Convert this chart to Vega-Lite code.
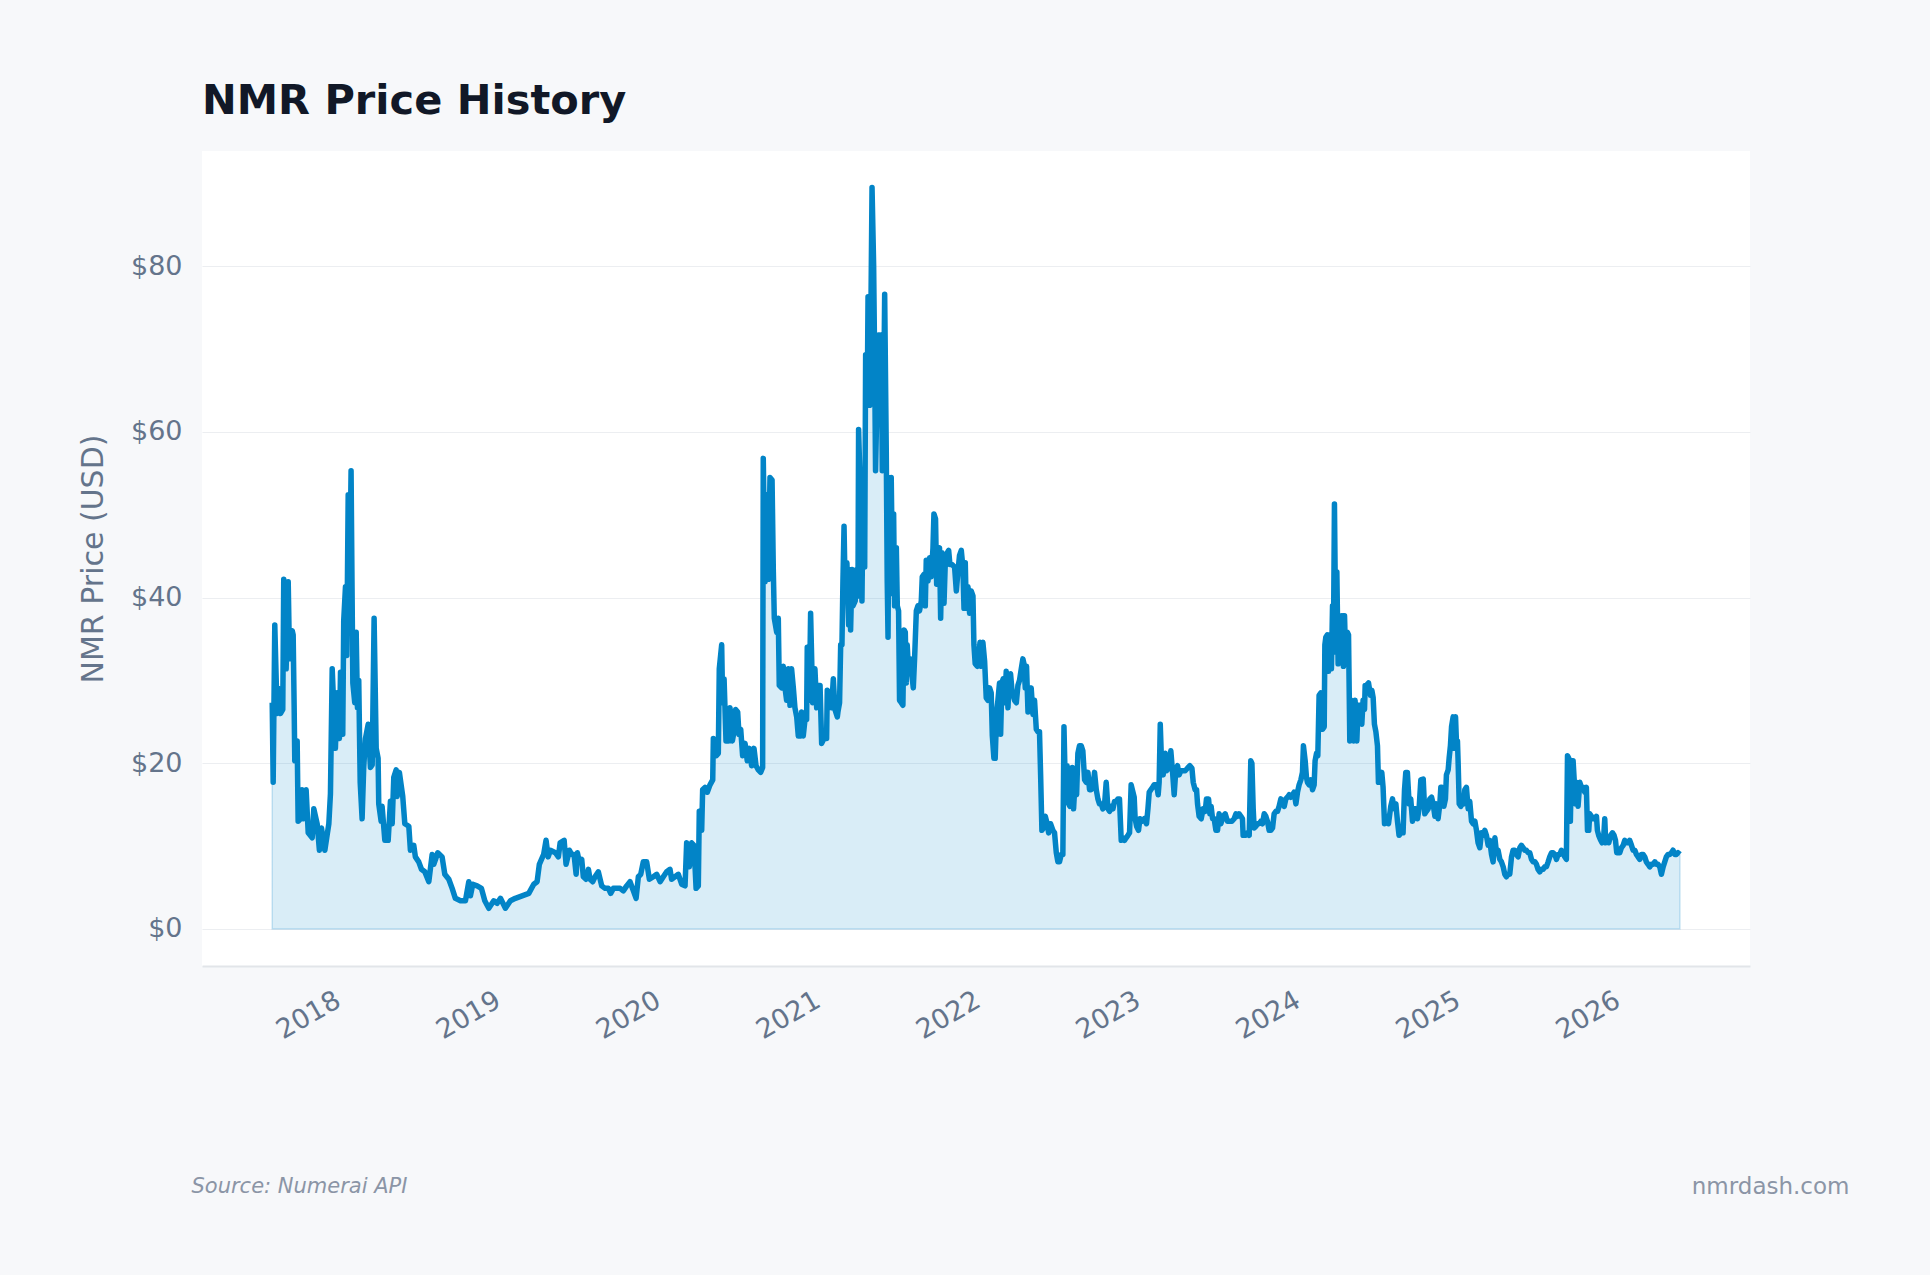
{
"$schema": "https://vega.github.io/schema/vega-lite/v6.json",
"width": 1548, "height": 815,
"autosize": {"type": "none"},
"padding": {"left": 202, "top": 151, "right": 180, "bottom": 309},
"background": "#f7f8fa",
"config": {"font": "DejaVu Sans", "view": {"fill": "#ffffff", "stroke": null}},
"title": {"text": "NMR Price History", "anchor": "start", "frame": "group", "fontSize": 41.5, "fontWeight": "bold", "color": "#111827", "font": "DejaVu Sans", "baseline": "alphabetic", "offset": 38, "dy": 42},
"data": {"values": [
{"t":2017.563,"p":27.3},{"t":2017.569,"p":17.7},{"t":2017.579,"p":36.7},{"t":2017.588,"p":30},{"t":2017.594,"p":26},{"t":2017.608,"p":29},{"t":2017.615,"p":26},{"t":2017.629,"p":26.5},{"t":2017.635,"p":42.2},{"t":2017.650,"p":31.4},{"t":2017.663,"p":41.9},{"t":2017.671,"p":32.6},{"t":2017.688,"p":36},{"t":2017.694,"p":35.5},{"t":2017.700,"p":27},{"t":2017.704,"p":20.3},{"t":2017.719,"p":22.7},{"t":2017.725,"p":13},{"t":2017.740,"p":13.3},{"t":2017.750,"p":16.8},{"t":2017.760,"p":13.3},{"t":2017.775,"p":16.8},{"t":2017.788,"p":11.6},{"t":2017.813,"p":11},{"t":2017.823,"p":14.5},{"t":2017.844,"p":12.7},{"t":2017.858,"p":9.5},{"t":2017.871,"p":12.2},{"t":2017.892,"p":9.5},{"t":2017.906,"p":11.3},{"t":2017.917,"p":12.7},{"t":2017.927,"p":16.3},{"t":2017.938,"p":31.4},{"t":2017.958,"p":21.8},{"t":2017.969,"p":28.5},{"t":2017.983,"p":23},{"t":2017.990,"p":31},{"t":2018.004,"p":23.5},{"t":2018.010,"p":37.2},{"t":2018.021,"p":41.3},{"t":2018.029,"p":33},{"t":2018.038,"p":52.4},{"t":2018.046,"p":40},{"t":2018.056,"p":55.3},{"t":2018.067,"p":29.7},{"t":2018.079,"p":27.3},{"t":2018.088,"p":35.8},{"t":2018.096,"p":26.7},{"t":2018.104,"p":30},{"t":2018.113,"p":17.7},{"t":2018.125,"p":13.3},{"t":2018.135,"p":19.5},{"t":2018.146,"p":23},{"t":2018.163,"p":24.7},{"t":2018.177,"p":19.5},{"t":2018.188,"p":19.8},{"t":2018.200,"p":37.5},{"t":2018.213,"p":21.8},{"t":2018.225,"p":20.6},{"t":2018.229,"p":15.1},{"t":2018.244,"p":13},{"t":2018.250,"p":14.8},{"t":2018.267,"p":10.7},{"t":2018.288,"p":10.7},{"t":2018.302,"p":15.4},{"t":2018.313,"p":12.7},{"t":2018.323,"p":18.3},{"t":2018.338,"p":19.2},{"t":2018.344,"p":16},{"t":2018.358,"p":18.9},{"t":2018.379,"p":16},{"t":2018.392,"p":12.7},{"t":2018.417,"p":12.4},{"t":2018.427,"p":9.5},{"t":2018.448,"p":10.1},{"t":2018.458,"p":8.7},{"t":2018.479,"p":8.1},{"t":2018.496,"p":7.2},{"t":2018.517,"p":6.9},{"t":2018.542,"p":5.7},{"t":2018.563,"p":9},{"t":2018.573,"p":7.8},{"t":2018.598,"p":9.2},{"t":2018.625,"p":8.7},{"t":2018.642,"p":6.6},{"t":2018.667,"p":6},{"t":2018.688,"p":4.9},{"t":2018.708,"p":3.7},{"t":2018.740,"p":3.4},{"t":2018.771,"p":3.4},{"t":2018.792,"p":5.7},{"t":2018.802,"p":4},{"t":2018.817,"p":5.4},{"t":2018.844,"p":5.2},{"t":2018.871,"p":4.9},{"t":2018.892,"p":3.4},{"t":2018.917,"p":2.5},{"t":2018.948,"p":3.4},{"t":2018.969,"p":3.1},{"t":2018.990,"p":3.7},{"t":2019.021,"p":2.5},{"t":2019.052,"p":3.4},{"t":2019.083,"p":3.7},{"t":2019.125,"p":4},{"t":2019.167,"p":4.3},{"t":2019.198,"p":5.4},{"t":2019.219,"p":5.7},{"t":2019.233,"p":7.8},{"t":2019.260,"p":9},{"t":2019.275,"p":10.7},{"t":2019.288,"p":8.7},{"t":2019.302,"p":9.5},{"t":2019.333,"p":9.2},
{"t":2019.352,"p":8.7},{"t":2019.363,"p":10.4},{"t":2019.388,"p":10.7},{"t":2019.400,"p":7.8},{"t":2019.421,"p":9.5},{"t":2019.435,"p":9},{"t":2019.450,"p":9},{"t":2019.463,"p":6.6},{"t":2019.471,"p":9.2},{"t":2019.483,"p":8.1},{"t":2019.498,"p":8.4},{"t":2019.508,"p":6.3},{"t":2019.525,"p":6},{"t":2019.540,"p":7.2},{"t":2019.550,"p":6},{"t":2019.567,"p":5.7},{"t":2019.581,"p":6.3},{"t":2019.602,"p":6.9},{"t":2019.623,"p":5.2},{"t":2019.644,"p":4.9},{"t":2019.665,"p":4.9},{"t":2019.679,"p":4.3},{"t":2019.696,"p":4.9},{"t":2019.717,"p":4.9},{"t":2019.738,"p":4.9},{"t":2019.758,"p":4.6},{"t":2019.779,"p":5.2},{"t":2019.800,"p":5.7},{"t":2019.821,"p":4.6},{"t":2019.838,"p":3.7},{"t":2019.852,"p":6.3},{"t":2019.867,"p":6.6},{"t":2019.883,"p":8.1},{"t":2019.904,"p":8.1},{"t":2019.921,"p":6},{"t":2019.946,"p":6.3},{"t":2019.967,"p":6.6},{"t":2019.988,"p":5.7},{"t":2020.008,"p":6.3},{"t":2020.029,"p":6.9},{"t":2020.050,"p":7.2},{"t":2020.060,"p":6},{"t":2020.081,"p":6.3},{"t":2020.102,"p":6.6},{"t":2020.123,"p":5.4},{"t":2020.144,"p":5.2},{"t":2020.154,"p":10.4},{"t":2020.171,"p":7.5},{"t":2020.185,"p":10.4},{"t":2020.200,"p":10.1},{"t":2020.213,"p":4.9},{"t":2020.227,"p":5.2},{"t":2020.233,"p":14.2},{"t":2020.248,"p":11.9},{"t":2020.254,"p":16.8},{"t":2020.269,"p":17.1},{"t":2020.283,"p":16.5},{"t":2020.300,"p":17.4},{"t":2020.317,"p":18},{"t":2020.321,"p":23},{"t":2020.338,"p":20.9},{"t":2020.352,"p":21.2},{"t":2020.358,"p":31.4},{"t":2020.373,"p":34.3},{"t":2020.379,"p":27.3},{"t":2020.388,"p":30.2},{"t":2020.400,"p":22.7},{"t":2020.415,"p":22.7},{"t":2020.425,"p":26.7},{"t":2020.440,"p":22.7},{"t":2020.450,"p":23.8},{"t":2020.460,"p":26.5},{"t":2020.473,"p":26.2},{"t":2020.481,"p":23.5},{"t":2020.492,"p":24.1},{"t":2020.504,"p":20.9},{"t":2020.519,"p":22.4},{"t":2020.533,"p":20.3},{"t":2020.546,"p":21.8},{"t":2020.560,"p":19.7},{"t":2020.575,"p":21.8},{"t":2020.588,"p":19.7},{"t":2020.602,"p":19.2},{"t":2020.617,"p":18.9},{"t":2020.629,"p":19.5},{"t":2020.633,"p":56.8},{"t":2020.644,"p":41.9},{"t":2020.654,"p":52.4},{"t":2020.665,"p":42.2},{"t":2020.675,"p":54.5},{"t":2020.688,"p":54.2},{"t":2020.696,"p":43.1},{"t":2020.702,"p":37.5},{"t":2020.717,"p":35.8},{"t":2020.727,"p":37.5},{"t":2020.733,"p":29.4},{"t":2020.748,"p":29.1},{"t":2020.758,"p":31.7},{"t":2020.769,"p":29.1},{"t":2020.779,"p":27.6},{"t":2020.790,"p":31.4},{"t":2020.800,"p":27},{"t":2020.810,"p":31.4},{"t":2020.821,"p":29.1},{"t":2020.831,"p":26.7},{"t":2020.842,"p":25.6},{"t":2020.852,"p":23.3},{"t":2020.867,"p":23.3},{"t":2020.873,"p":26.2},{"t":2020.883,"p":23.3},{"t":2020.894,"p":25.3},{"t":2020.904,"p":25.3},{"t":2020.908,"p":34},{"t":2020.921,"p":27.6},{"t":2020.929,"p":38.1},{"t":2020.942,"p":27.3},{"t":2020.956,"p":31.4},{"t":2020.967,"p":26.7},{"t":2020.977,"p":29.4},{"t":2020.988,"p":29.4},{"t":2020.998,"p":22.4},{"t":2021.013,"p":23},{"t":2021.029,"p":23},{"t":2021.033,"p":28.8},{"t":2021.046,"p":28.5},{"t":2021.060,"p":26.7},{"t":2021.071,"p":30.2},{"t":2021.081,"p":26.5},{"t":2021.096,"p":25.6},
{"t":2021.100,"p":26.2},{"t":2021.110,"p":27.3},{"t":2021.117,"p":34.3},{"t":2021.125,"p":34.3},{"t":2021.131,"p":41.9},{"t":2021.138,"p":48.6},{"t":2021.146,"p":39.6},{"t":2021.156,"p":44.2},{"t":2021.167,"p":36.7},{"t":2021.173,"p":43.4},{"t":2021.179,"p":36.1},{"t":2021.188,"p":43.4},{"t":2021.194,"p":39},{"t":2021.208,"p":39.6},{"t":2021.217,"p":43.4},{"t":2021.225,"p":40.2},{"t":2021.229,"p":60.3},{"t":2021.240,"p":52.4},{"t":2021.250,"p":39.6},{"t":2021.258,"p":54.2},{"t":2021.267,"p":43.7},{"t":2021.273,"p":69.3},{"t":2021.283,"p":63.5},{"t":2021.288,"p":76.3},{"t":2021.298,"p":63.2},{"t":2021.304,"p":70.2},{"t":2021.313,"p":89.5},{"t":2021.323,"p":80.1},{"t":2021.329,"p":69.3},{"t":2021.335,"p":55.3},{"t":2021.346,"p":65.8},{"t":2021.354,"p":71.7},{"t":2021.363,"p":62.9},{"t":2021.371,"p":71.7},{"t":2021.377,"p":55.3},{"t":2021.385,"p":62.3},{"t":2021.392,"p":76.6},{"t":2021.402,"p":57.7},{"t":2021.408,"p":41.9},{"t":2021.413,"p":35.2},{"t":2021.419,"p":54.5},{"t":2021.429,"p":40.5},{"t":2021.433,"p":54.5},{"t":2021.440,"p":43.7},{"t":2021.448,"p":50.1},{"t":2021.454,"p":39},{"t":2021.465,"p":46},{"t":2021.471,"p":39},{"t":2021.479,"p":38.4},{"t":2021.485,"p":27.6},{"t":2021.496,"p":27.3},{"t":2021.506,"p":27},{"t":2021.513,"p":36.1},{"t":2021.521,"p":35.8},{"t":2021.527,"p":29.7},{"t":2021.533,"p":34.3},{"t":2021.542,"p":30.8},{"t":2021.554,"p":32.6},{"t":2021.563,"p":30.5},{"t":2021.571,"p":29.1},{"t":2021.579,"p":32.6},{"t":2021.590,"p":38.4},{"t":2021.600,"p":39},{"t":2021.610,"p":38.4},{"t":2021.621,"p":39.6},{"t":2021.627,"p":42.5},{"t":2021.638,"p":42.8},{"t":2021.646,"p":39},{"t":2021.652,"p":44.5},{"t":2021.663,"p":42},{"t":2021.673,"p":44.8},{"t":2021.683,"p":42.5},{"t":2021.694,"p":46},{"t":2021.700,"p":50.1},{"t":2021.710,"p":49.5},{"t":2021.717,"p":41.6},{"t":2021.725,"p":45.4},{"t":2021.735,"p":46},{"t":2021.742,"p":37.5},{"t":2021.750,"p":45.4},{"t":2021.763,"p":39.3},{"t":2021.771,"p":44.2},{"t":2021.783,"p":45.4},{"t":2021.792,"p":45.7},{"t":2021.800,"p":44},{"t":2021.813,"p":44},{"t":2021.829,"p":43.7},{"t":2021.840,"p":40.8},{"t":2021.850,"p":43.1},{"t":2021.860,"p":45.1},{"t":2021.871,"p":45.7},{"t":2021.881,"p":43.7},{"t":2021.888,"p":38.7},{"t":2021.896,"p":44.2},{"t":2021.902,"p":38.7},{"t":2021.913,"p":41.3},{"t":2021.923,"p":38.1},{"t":2021.933,"p":40.8},{"t":2021.944,"p":40.2},{"t":2021.950,"p":34.3},{"t":2021.958,"p":32},{"t":2021.971,"p":31.7},{"t":2021.979,"p":32.6},{"t":2021.988,"p":34.6},{"t":2021.996,"p":31.7},{"t":2022.006,"p":34.6},{"t":2022.017,"p":32.3},{"t":2022.027,"p":27.9},{"t":2022.038,"p":27.6},{"t":2022.048,"p":29.1},{"t":2022.058,"p":28.5},{"t":2022.065,"p":23.3},{"t":2022.075,"p":20.6},{"t":2022.083,"p":20.6},{"t":2022.092,"p":26.2},{"t":2022.100,"p":27.6},{"t":2022.110,"p":29.7},{"t":2022.117,"p":23.5},{"t":2022.125,"p":29.7},{"t":2022.133,"p":30.2},{"t":2022.142,"p":27.3},{"t":2022.152,"p":31.1},{"t":2022.163,"p":26.7},{"t":2022.171,"p":30.5},{"t":2022.179,"p":30.8},{"t":2022.188,"p":28.8},{"t":2022.196,"p":28.2},{"t":2022.204,"p":27.6},{"t":2022.215,"p":27.3},{"t":2022.225,"p":29.4},{"t":2022.235,"p":30},{"t":2022.246,"p":31.4},{"t":2022.256,"p":32.6},{"t":2022.263,"p":32},{"t":2022.271,"p":29.1},{"t":2022.279,"p":31.7},{"t":2022.288,"p":26.2},{"t":2022.298,"p":26.5},{"t":2022.308,"p":29.1},{"t":2022.319,"p":25.9},{"t":2022.329,"p":27.6},{"t":2022.340,"p":24.1},{"t":2022.350,"p":23.8},{"t":2022.360,"p":23.8},{"t":2022.367,"p":18.6},{"t":2022.375,"p":11.9},{"t":2022.385,"p":12.2},{"t":2022.396,"p":13.6},{"t":2022.408,"p":12.7},{"t":2022.417,"p":11.6},{"t":2022.429,"p":12.7},{"t":2022.444,"p":11.9},{"t":2022.454,"p":11.6},{"t":2022.465,"p":9.2},{"t":2022.475,"p":8.1},{"t":2022.485,"p":8.1},{"t":2022.496,"p":9},{"t":2022.506,"p":9},{"t":2022.513,"p":24.4},{"t":2022.523,"p":15.7},{"t":2022.533,"p":19.7},{"t":2022.542,"p":15.1},{"t":2022.550,"p":14.8},{"t":2022.558,"p":15.1},{"t":2022.565,"p":19.5},{"t":2022.573,"p":14.5},{"t":2022.583,"p":18},{"t":2022.592,"p":16.2},{"t":2022.600,"p":21.2},{"t":2022.610,"p":22.1},{"t":2022.621,"p":22.1},{"t":2022.631,"p":21.5},{"t":2022.642,"p":18},{"t":2022.652,"p":17.7},{"t":2022.663,"p":18.9},{"t":2022.673,"p":16.8},{"t":2022.683,"p":16.8},{"t":2022.694,"p":17.1},{"t":2022.704,"p":18.9},{"t":2022.715,"p":16.8},{"t":2022.725,"p":15.7},{"t":2022.735,"p":15.1},{"t":2022.746,"p":15.1},{"t":2022.756,"p":14.5},{"t":2022.767,"p":15.1},{"t":2022.777,"p":17.7},{"t":2022.788,"p":14.5},{"t":2022.798,"p":14.2},{"t":2022.808,"p":14.8},{"t":2022.819,"p":14.5},{"t":2022.829,"p":15.4},{"t":2022.840,"p":15.4},{"t":2022.850,"p":15.7},{"t":2022.860,"p":15.7},{"t":2022.871,"p":10.7},{"t":2022.881,"p":11},{"t":2022.892,"p":10.7},{"t":2022.902,"p":11},{"t":2022.913,"p":11.3},{"t":2022.923,"p":11.6},{"t":2022.933,"p":17.4},
{"t":2022.952,"p":15.9},{"t":2022.958,"p":13.3},{"t":2022.967,"p":12.4},{"t":2022.979,"p":11.9},{"t":2022.988,"p":13.3},{"t":2023.000,"p":13},{"t":2023.015,"p":13.3},{"t":2023.029,"p":12.7},{"t":2023.038,"p":14.5},{"t":2023.046,"p":16.5},{"t":2023.056,"p":16.8},{"t":2023.067,"p":17.1},{"t":2023.077,"p":17.4},{"t":2023.092,"p":17.4},{"t":2023.102,"p":16.2},{"t":2023.108,"p":17.7},{"t":2023.115,"p":24.7},{"t":2023.125,"p":18.9},{"t":2023.133,"p":18.6},{"t":2023.146,"p":21.2},{"t":2023.154,"p":19.1},{"t":2023.167,"p":19.4},{"t":2023.181,"p":21.5},{"t":2023.192,"p":18.9},{"t":2023.202,"p":16.2},{"t":2023.213,"p":19.4},{"t":2023.223,"p":19.7},{"t":2023.233,"p":18.6},{"t":2023.244,"p":19.1},{"t":2023.258,"p":19.1},{"t":2023.271,"p":19.1},{"t":2023.285,"p":19.4},{"t":2023.300,"p":19.7},{"t":2023.313,"p":19.4},{"t":2023.321,"p":17.7},{"t":2023.333,"p":16.8},{"t":2023.342,"p":16.8},{"t":2023.348,"p":15.1},{"t":2023.358,"p":13.6},{"t":2023.371,"p":13.3},{"t":2023.383,"p":14.5},{"t":2023.396,"p":14.2},{"t":2023.404,"p":15.7},{"t":2023.417,"p":15.7},{"t":2023.425,"p":13.9},{"t":2023.433,"p":14.8},{"t":2023.442,"p":13.3},{"t":2023.452,"p":13.3},{"t":2023.463,"p":11.9},{"t":2023.473,"p":11.9},{"t":2023.483,"p":13.9},{"t":2023.494,"p":12.7},{"t":2023.508,"p":13.6},{"t":2023.521,"p":13.9},{"t":2023.535,"p":13},{"t":2023.546,"p":13},{"t":2023.563,"p":13},{"t":2023.577,"p":13.3},{"t":2023.588,"p":13.9},{"t":2023.598,"p":13.6},{"t":2023.608,"p":13.9},{"t":2023.619,"p":13.6},{"t":2023.629,"p":13.3},{"t":2023.633,"p":11.3},{"t":2023.646,"p":11.3},{"t":2023.660,"p":11.6},{"t":2023.671,"p":11.3},{"t":2023.681,"p":20.3},{"t":2023.688,"p":20},{"t":2023.696,"p":14.5},{"t":2023.702,"p":12.2},{"t":2023.713,"p":12.4},{"t":2023.723,"p":12.7},{"t":2023.733,"p":12.7},{"t":2023.744,"p":13},{"t":2023.754,"p":12.7},{"t":2023.765,"p":13.9},{"t":2023.775,"p":13.6},{"t":2023.785,"p":13},{"t":2023.796,"p":11.9},{"t":2023.806,"p":11.9},{"t":2023.817,"p":12.2},{"t":2023.827,"p":13.9},{"t":2023.838,"p":14.2},{"t":2023.848,"p":14.2},{"t":2023.858,"p":14.8},{"t":2023.869,"p":15.7},{"t":2023.879,"p":15.4},{"t":2023.890,"p":14.8},{"t":2023.900,"p":15.7},{"t":2023.910,"p":15.9},{"t":2023.921,"p":16.2},{"t":2023.931,"p":15.9},{"t":2023.942,"p":16.2},{"t":2023.952,"p":16.5},{"t":2023.963,"p":15.1},{"t":2023.973,"p":16.5},{"t":2023.983,"p":17.4},{"t":2023.994,"p":18},{"t":2024.004,"p":18.9},{"t":2024.010,"p":22.1},{"t":2024.021,"p":20.3},{"t":2024.029,"p":18.3},{"t":2024.035,"p":17.7},{"t":2024.046,"p":17.4},{"t":2024.056,"p":18},{"t":2024.067,"p":16.8},{"t":2024.077,"p":17.4},{"t":2024.083,"p":20.3},{"t":2024.092,"p":21.2},{"t":2024.100,"p":20.9},{"t":2024.108,"p":28.2},{"t":2024.119,"p":28.5},{"t":2024.129,"p":24.1},{"t":2024.140,"p":24.4},{"t":2024.144,"p":34.3},{"t":2024.150,"p":35.2},{"t":2024.160,"p":35.5},{"t":2024.167,"p":31.1},{"t":2024.175,"p":35.5},{"t":2024.185,"p":31.4},{"t":2024.192,"p":39},{"t":2024.198,"p":35.2},{"t":2024.204,"p":51.3},{"t":2024.213,"p":33.4},{"t":2024.219,"p":43.1},{"t":2024.227,"p":32},{"t":2024.233,"p":36.1},{"t":2024.244,"p":34},{"t":2024.250,"p":37.8},{"t":2024.260,"p":31.7},{"t":2024.267,"p":37.8},{"t":2024.275,"p":32},{"t":2024.285,"p":35.8},{"t":2024.292,"p":35.5},{"t":2024.300,"p":22.7},{"t":2024.308,"p":27.6},{"t":2024.317,"p":27.3},{"t":2024.325,"p":22.7},{"t":2024.333,"p":27.6},{"t":2024.344,"p":22.7},{"t":2024.352,"p":27},{"t":2024.363,"p":27},{"t":2024.375,"p":24.7},{"t":2024.383,"p":27.6},{"t":2024.392,"p":26.5},{"t":2024.396,"p":29.4},{"t":2024.404,"p":29.4},{"t":2024.417,"p":29.7},{"t":2024.429,"p":28.2},{"t":2024.438,"p":28.8},{"t":2024.446,"p":27.9},{"t":2024.454,"p":24.7},{"t":2024.463,"p":23.8},{"t":2024.473,"p":22.1},{"t":2024.479,"p":17.7},{"t":2024.490,"p":17.7},{"t":2024.500,"p":18.9},{"t":2024.508,"p":17.1},{"t":2024.517,"p":12.7},{"t":2024.529,"p":13.6},{"t":2024.542,"p":12.7},{"t":2024.556,"p":14.8},{"t":2024.567,"p":15.7},{"t":2024.577,"p":14.5},{"t":2024.588,"p":15.1},{"t":2024.598,"p":13},{"t":2024.608,"p":11.3},{"t":2024.619,"p":11.6},{"t":2024.633,"p":11.6},{"t":2024.642,"p":16.8},{"t":2024.650,"p":18.9},{"t":2024.660,"p":18.9},{"t":2024.671,"p":15.1},{"t":2024.681,"p":15.7},{"t":2024.692,"p":13},{"t":2024.702,"p":14.5},{"t":2024.713,"p":14.5},{"t":2024.723,"p":13.3},{"t":2024.733,"p":14.5},{"t":2024.744,"p":18},
{"t":2024.759,"p":18.1},{"t":2024.769,"p":13.9},{"t":2024.779,"p":14.2},{"t":2024.790,"p":14.5},{"t":2024.800,"p":15.7},{"t":2024.811,"p":15.9},{"t":2024.821,"p":15.1},{"t":2024.832,"p":13.6},{"t":2024.842,"p":15.1},{"t":2024.852,"p":13.3},{"t":2024.863,"p":15.1},{"t":2024.869,"p":17.1},{"t":2024.877,"p":17.1},{"t":2024.888,"p":14.8},{"t":2024.898,"p":15.7},{"t":2024.904,"p":18.6},{"t":2024.915,"p":19.2},{"t":2024.921,"p":20.6},{"t":2024.929,"p":22.1},{"t":2024.936,"p":24.4},{"t":2024.946,"p":25.6},{"t":2024.952,"p":21.8},{"t":2024.961,"p":25.6},{"t":2024.967,"p":22.4},{"t":2024.973,"p":22.7},{"t":2024.977,"p":20.3},{"t":2024.984,"p":15.1},{"t":2024.994,"p":14.8},{"t":2025.002,"p":15.4},{"t":2025.011,"p":15.1},{"t":2025.019,"p":16.8},{"t":2025.029,"p":17.1},{"t":2025.040,"p":14.5},{"t":2025.050,"p":15.4},{"t":2025.061,"p":13},{"t":2025.071,"p":12.7},{"t":2025.082,"p":13},{"t":2025.092,"p":11.9},{"t":2025.102,"p":10.4},{"t":2025.113,"p":9.8},{"t":2025.123,"p":11.6},{"t":2025.134,"p":11.3},{"t":2025.144,"p":11.9},{"t":2025.154,"p":11.3},{"t":2025.165,"p":10.1},{"t":2025.175,"p":10.7},{"t":2025.186,"p":9},{"t":2025.196,"p":8.1},{"t":2025.207,"p":11},{"t":2025.217,"p":9.2},{"t":2025.227,"p":9.5},{"t":2025.238,"p":8.4},{"t":2025.248,"p":8.1},{"t":2025.259,"p":7.5},{"t":2025.269,"p":6.6},{"t":2025.279,"p":6.3},{"t":2025.290,"p":6.6},{"t":2025.300,"p":6.6},{"t":2025.311,"p":8.7},{"t":2025.321,"p":9.5},{"t":2025.332,"p":9.5},{"t":2025.342,"p":9},{"t":2025.352,"p":8.7},{"t":2025.363,"p":9.8},{"t":2025.373,"p":10.1},{"t":2025.384,"p":9.8},{"t":2025.394,"p":9.5},{"t":2025.404,"p":9.5},{"t":2025.415,"p":9.2},{"t":2025.425,"p":9.2},{"t":2025.436,"p":8.4},{"t":2025.446,"p":8.1},{"t":2025.457,"p":8.1},{"t":2025.467,"p":7.8},{"t":2025.477,"p":7.2},{"t":2025.488,"p":6.9},{"t":2025.498,"p":7.2},{"t":2025.509,"p":7.2},{"t":2025.519,"p":7.5},{"t":2025.529,"p":7.5},{"t":2025.540,"p":8.1},{"t":2025.550,"p":8.7},{"t":2025.561,"p":9.2},{"t":2025.571,"p":9.2},{"t":2025.582,"p":9},{"t":2025.592,"p":8.4},{"t":2025.602,"p":9},{"t":2025.613,"p":9},{"t":2025.623,"p":9.5},{"t":2025.634,"p":9.2},{"t":2025.644,"p":8.7},{"t":2025.654,"p":8.4},{"t":2025.661,"p":20.9},{"t":2025.669,"p":20.6},{"t":2025.679,"p":13},{"t":2025.686,"p":20.3},{"t":2025.696,"p":20.3},{"t":2025.702,"p":18.3},{"t":2025.711,"p":15.1},{"t":2025.717,"p":17.7},{"t":2025.727,"p":14.8},{"t":2025.738,"p":17.7},{"t":2025.748,"p":17.1},{"t":2025.759,"p":17.1},{"t":2025.769,"p":16.5},{"t":2025.779,"p":17.1},{"t":2025.786,"p":11.9},{"t":2025.794,"p":11.9},{"t":2025.800,"p":13.9},{"t":2025.811,"p":13.6},{"t":2025.821,"p":13.3},{"t":2025.832,"p":13.3},{"t":2025.842,"p":13.6},{"t":2025.848,"p":11.9},{"t":2025.856,"p":11.3},{"t":2025.869,"p":10.7},{"t":2025.877,"p":10.4},{"t":2025.886,"p":10.7},{"t":2025.894,"p":13.3},{"t":2025.900,"p":10.4},{"t":2025.911,"p":11},{"t":2025.919,"p":10.4},{"t":2025.931,"p":11.3},{"t":2025.942,"p":11.6},{"t":2025.952,"p":11.3},{"t":2025.961,"p":10.7},{"t":2025.969,"p":9.2},{"t":2025.977,"p":9.2},{"t":2025.988,"p":9.2},{"t":2025.998,"p":9.8},{"t":2026.009,"p":10.1},{"t":2026.019,"p":10.7},{"t":2026.029,"p":10.4},{"t":2026.040,"p":10.4},{"t":2026.050,"p":10.7},{"t":2026.061,"p":10.1},{"t":2026.071,"p":9.5},{"t":2026.082,"p":9.5},{"t":2026.092,"p":9},{"t":2026.102,"p":8.7},{"t":2026.113,"p":8.4},{"t":2026.123,"p":9},{"t":2026.134,"p":9},{"t":2026.144,"p":8.7},{"t":2026.154,"p":8.1},{"t":2026.165,"p":7.8},{"t":2026.175,"p":7.5},{"t":2026.186,"p":7.8},{"t":2026.196,"p":7.8},{"t":2026.207,"p":8.1},{"t":2026.217,"p":7.8},{"t":2026.227,"p":7.8},{"t":2026.238,"p":7.5},{"t":2026.248,"p":6.6},{"t":2026.259,"p":7.5},{"t":2026.269,"p":8.1},{"t":2026.279,"p":8.7},{"t":2026.290,"p":9},{"t":2026.300,"p":9},{"t":2026.311,"p":9.2},{"t":2026.321,"p":9.5},{"t":2026.332,"p":9},{"t":2026.342,"p":9},{"t":2026.352,"p":9.2},{"t":2026.364,"p":9}
]},
"encoding": {
  "y": {"field": "p", "type": "quantitative", "scale": {"domain": [-4.47, 93.9], "nice": false},
    "axis": {"values": [0, 20, 40, 60, 80], "format": "$.0f", "labelFontSize": 27, "labelColor": "#64748b", "labelPadding": 20, "ticks": false, "tickSize": 0, "domain": false, "grid": true, "gridColor": "#eceef1", "gridWidth": 1.2, "title": "NMR Price (USD)", "titleFontSize": 30, "titleFontWeight": "normal", "titleColor": "#64748b", "titlePadding": 22}}
},
"layer": [
  {"mark": {"type": "area", "color": "#0284c7", "fillOpacity": 0.15, "stroke": "#0284c7", "strokeOpacity": 0.2, "strokeWidth": 1.5},
   "encoding": {
     "x": {"field": "t", "type": "quantitative", "scale": {"domain": [2017.124, 2026.802], "nice": false, "zero": false},
       "axis": {"orient": "top", "labels": false, "ticks": false, "domain": false, "grid": false, "title": "nmrdash.com", "titleX": 1647, "titleY": 1042, "titleAlign": "right", "titleAnchor": null, "titleBaseline": "alphabetic", "titleAngle": 0, "titleFontSize": 23, "titleFontWeight": "normal", "titleColor": "#8b95a6"}},
     "y2": {"datum": 0}
   }},
  {"mark": {"type": "line", "color": "#0284c7", "strokeWidth": 5.5, "strokeJoin": "round", "strokeCap": "butt"},
   "encoding": {
     "x": {"field": "t", "type": "quantitative", "scale": {"domain": [2017.124, 2026.802], "nice": false, "zero": false},
       "axis": {"orient": "bottom", "values": [2018, 2019, 2020, 2021, 2022, 2023, 2024, 2025, 2026], "format": "d", "labelAngle": -30, "labelAlign": "right", "labelBaseline": "alphabetic", "labelFontSize": 27, "labelColor": "#64748b", "labelPadding": 39, "labelFlush": false, "labelOverlap": false, "ticks": false, "tickSize": 0, "domain": true, "domainColor": "#e2e5e9", "domainWidth": 2, "grid": false, "title": "Source: Numerai API", "titleX": -11, "titleY": 226, "titleAlign": "left", "titleAnchor": null, "titleBaseline": "alphabetic", "titleAngle": 0, "titleFontSize": 21, "titleFontStyle": "italic", "titleFontWeight": "normal", "titleColor": "#8b95a6"}}
   }}
],
"resolve": {"axis": {"x": "independent"}}
}
